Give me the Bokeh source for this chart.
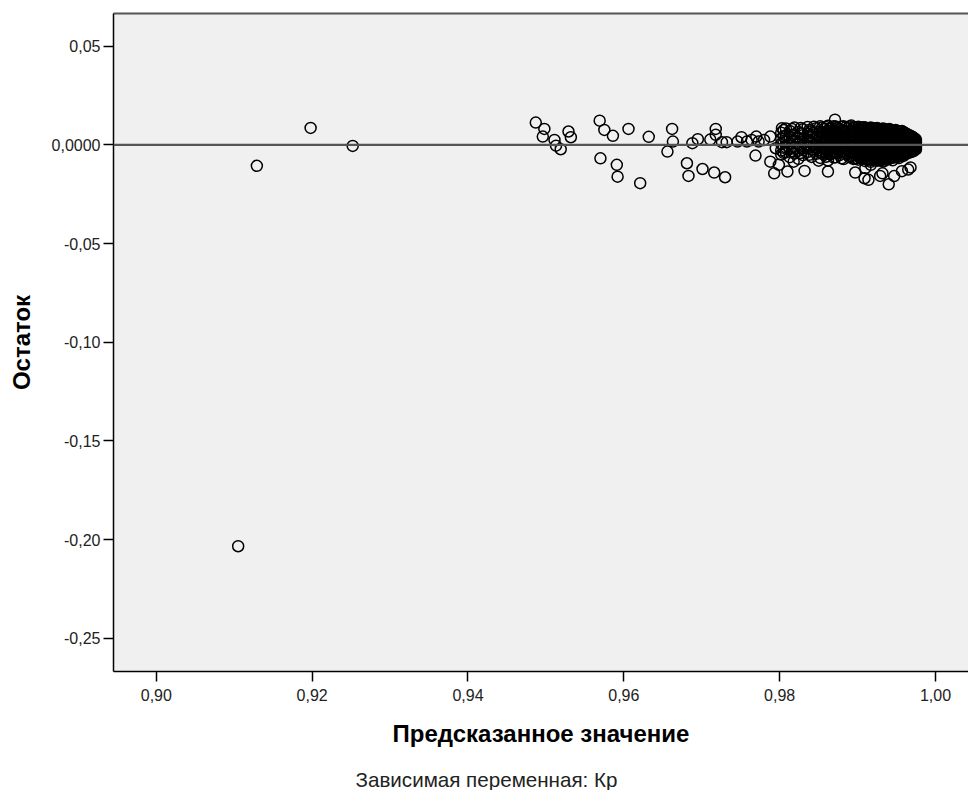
from bokeh.plotting import figure
from bokeh.models import Range1d, FixedTicker, Span, LinearAxis, Title
from bokeh.embed import file_html
from bokeh.resources import INLINE

# ---------------- data ----------------
x_ticks = [0.90, 0.92, 0.94, 0.96, 0.98, 1.00]
x_tick_labels = ["0,90", "0,92", "0,94", "0,96", "0,98", "1,00"]
y_ticks = [0.05, 0.0, -0.05, -0.10, -0.15, -0.20, -0.25]
y_tick_labels = ["0,05", "0,0000", "-0,05", "-0,10", "-0,15", "-0,20", "-0,25"]

# isolated points (predicted, residual)
sparse_pred = [0.9105, 0.9129, 0.9198, 0.9252,
               0.9487, 0.9498, 0.9496, 0.9511, 0.9513, 0.9519, 0.9529, 0.9532, 0.9569, 0.9575,
               0.9586, 0.9606, 0.9632, 0.9570, 0.9591, 0.9592, 0.9621,
               0.9656, 0.9662, 0.9663, 0.9681, 0.9683, 0.9701, 0.9716, 0.9730, 0.9688, 0.9695,
               0.9718, 0.9718, 0.9711, 0.9726, 0.9732, 0.9746, 0.9751, 0.9758, 0.9764, 0.9770,
               0.9773, 0.9769, 0.9780, 0.9788, 0.9795, 0.9788, 0.9799, 0.9793, 0.9803, 0.9810,
               0.9832, 0.9862, 0.9818, 0.9850, 0.9899, 0.9897, 0.9910, 0.9909, 0.9914, 0.9917,
               0.9923, 0.9929, 0.9932, 0.9940, 0.9947, 0.9957, 0.9965, 0.9968, 0.9871]
sparse_resid = [-0.2034, -0.0106, 0.0086, -0.0005,
                0.0113, 0.0081, 0.0042, 0.0025, -0.0004, -0.0022, 0.0068, 0.0039, 0.0123, 0.0076,
                0.0046, 0.0081, 0.0041, -0.0068, -0.0101, -0.0161, -0.0194,
                -0.0034, 0.0081, 0.0017, -0.0093, -0.0157, -0.0122, -0.0140, -0.0164, 0.0009, 0.0029,
                0.0081, 0.0051, 0.0027, 0.0014, 0.0014, 0.0017, 0.0039, 0.0017, 0.0025, 0.0042,
                0.0017, -0.0054, 0.0025, 0.0042, -0.0017, -0.0085, -0.0101, -0.0144, 0.0085, -0.0135,
                -0.0132, -0.0135, -0.0085, -0.0080, -0.0068, -0.0140, -0.0118, -0.0169, -0.0177, -0.0101,
                -0.0076, -0.0157, -0.0144, -0.0200, -0.0158, -0.0133, -0.0125, -0.0114, 0.0128]

# dense cluster: for each predicted value, the residuals seen there
cluster_a = [
    (0.9802, [0.0062, 0.0031, 0.0005, -0.0028, -0.0049]),
    (0.9805, [0.0075, 0.0044, 0.0019, -0.0015, -0.0040]),
    (0.9808, [0.0083, 0.0047, 0.0016, -0.0012, -0.0038]),
    (0.9813, [0.0071, 0.0039, 0.0008, -0.0021, -0.0062]),
    (0.9816, [0.0080, 0.0049, 0.0017, -0.0016, -0.0034]),
    (0.9819, [0.0088, 0.0054, 0.0022, -0.0009, -0.0044]),
    (0.9824, [0.0066, 0.0035, 0.0003, -0.0030, -0.0071]),
    (0.9827, [0.0086, 0.0058, 0.0024, -0.0008, -0.0041]),
    (0.9830, [0.0079, 0.0049, 0.0013, -0.0017, -0.0052]),
    (0.9836, [0.0091, 0.0058, 0.0027, -0.0004, -0.0036]),
    (0.9838, [0.0076, 0.0046, 0.0016, -0.0015, -0.0050]),
    (0.9841, [0.0069, 0.0040, 0.0010, -0.0024, -0.0061]),
    (0.9844, [0.0092, 0.0061, 0.0030, -0.0003, -0.0030]),
    (0.9847, [0.0085, 0.0052, 0.0019, -0.0013, -0.0045]),
]
cluster_b = [
    (0.9852, [0.0094, 0.0068, 0.0041, 0.0015, -0.0011, -0.0038, -0.0066]),
    (0.98545, [0.0088, 0.0062, 0.0036, 0.0010, -0.0017, -0.0044]),
    (0.9857, [0.0081, 0.0055, 0.0029, 0.0003, -0.0024, -0.0050]),
    (0.98595, [0.0091, 0.0066, 0.0040, 0.0014, -0.0013, -0.0039, -0.0060]),
    (0.9862, [0.0097, 0.0072, 0.0046, 0.0020, -0.0006, -0.0033, -0.0079]),
    (0.98645, [0.0083, 0.0057, 0.0031, 0.0005, -0.0022, -0.0048]),
    (0.9867, [0.0086, 0.0060, 0.0034, 0.0008, -0.0019, -0.0045]),
    (0.98695, [0.0095, 0.0069, 0.0043, 0.0017, -0.0009, -0.0035, -0.0064]),
    (0.9872, [0.0093, 0.0067, 0.0042, 0.0016, -0.0010, -0.0036, -0.0063]),
    (0.98745, [0.0087, 0.0061, 0.0036, 0.0010, -0.0016, -0.0042]),
    (0.9877, [0.0079, 0.0053, 0.0027, 0.0001, -0.0025, -0.0052]),
    (0.98795, [0.0092, 0.0066, 0.0040, 0.0014, -0.0012, -0.0038, -0.0068]),
    (0.9882, [0.0095, 0.0070, 0.0044, 0.0018, -0.0008, -0.0034, -0.0072]),
    (0.98845, [0.0089, 0.0063, 0.0037, 0.0011, -0.0015, -0.0041]),
    (0.9887, [0.0084, 0.0058, 0.0032, 0.0006, -0.0021, -0.0047]),
    (0.98895, [0.0093, 0.0067, 0.0041, 0.0015, -0.0011, -0.0037, -0.0062]),
    (0.9892, [0.0098, 0.0073, 0.0047, 0.0021, -0.0005, -0.0031, -0.0058]),
    (0.98945, [0.0090, 0.0064, 0.0038, 0.0012, -0.0014, -0.0040, -0.0071]),
    (0.9897, [0.0087, 0.0061, 0.0035, 0.0009, -0.0017, -0.0043, -0.0069]),
]
cluster_c = [
    (0.9901, [0.0092, 0.0078, 0.0064, 0.0051, 0.0037, 0.0024, 0.0010, -0.0003, -0.0017, -0.0030, -0.0044, -0.0058, -0.0075]),
    (0.9903, [0.0087, 0.0073, 0.0059, 0.0046, 0.0032, 0.0019, 0.0005, -0.0008, -0.0022, -0.0036, -0.0050, -0.0066]),
    (0.9905, [0.0085, 0.0071, 0.0057, 0.0044, 0.0030, 0.0017, 0.0003, -0.0010, -0.0024, -0.0037, -0.0051, -0.0066]),
    (0.9907, [0.0089, 0.0075, 0.0061, 0.0048, 0.0034, 0.0021, 0.0007, -0.0006, -0.0020, -0.0034, -0.0048, -0.0070]),
    (0.9909, [0.0090, 0.0076, 0.0062, 0.0049, 0.0035, 0.0022, 0.0008, -0.0005, -0.0019, -0.0032, -0.0046, -0.0060, -0.0081]),
    (0.9911, [0.0086, 0.0072, 0.0058, 0.0045, 0.0031, 0.0018, 0.0004, -0.0009, -0.0023, -0.0037, -0.0051, -0.0072]),
    (0.9913, [0.0083, 0.0069, 0.0055, 0.0042, 0.0028, 0.0015, 0.0001, -0.0012, -0.0026, -0.0039, -0.0053, -0.0068]),
    (0.9915, [0.0085, 0.0071, 0.0057, 0.0044, 0.0030, 0.0017, 0.0003, -0.0010, -0.0024, -0.0038, -0.0052, -0.0075]),
    (0.9917, [0.0088, 0.0074, 0.0060, 0.0047, 0.0033, 0.0020, 0.0006, -0.0007, -0.0021, -0.0034, -0.0048, -0.0062, -0.0086]),
    (0.9919, [0.0084, 0.0070, 0.0056, 0.0043, 0.0029, 0.0016, 0.0002, -0.0011, -0.0025, -0.0039, -0.0053, -0.0077]),
    (0.9921, [0.0081, 0.0067, 0.0053, 0.0040, 0.0026, 0.0013, -0.0001, -0.0014, -0.0028, -0.0041, -0.0055, -0.0070]),
    (0.9923, [0.0083, 0.0069, 0.0055, 0.0042, 0.0028, 0.0015, 0.0001, -0.0012, -0.0026, -0.0040, -0.0054, -0.0071]),
    (0.9925, [0.0086, 0.0072, 0.0058, 0.0045, 0.0031, 0.0018, 0.0004, -0.0009, -0.0023, -0.0036, -0.0050, -0.0064, -0.0079]),
    (0.9927, [0.0082, 0.0068, 0.0054, 0.0041, 0.0027, 0.0014, 0.0000, -0.0013, -0.0027, -0.0041, -0.0055, -0.0079]),
    (0.9929, [0.0079, 0.0065, 0.0051, 0.0038, 0.0024, 0.0011, -0.0003, -0.0016, -0.0030, -0.0043, -0.0057, -0.0072]),
    (0.9931, [0.0080, 0.0066, 0.0052, 0.0039, 0.0025, 0.0012, -0.0002, -0.0015, -0.0029, -0.0043, -0.0057, -0.0073]),
    (0.9933, [0.0083, 0.0069, 0.0056, 0.0042, 0.0029, 0.0015, 0.0002, -0.0011, -0.0025, -0.0038, -0.0052, -0.0066, -0.0084]),
    (0.9935, [0.0079, 0.0065, 0.0051, 0.0038, 0.0024, 0.0011, -0.0003, -0.0016, -0.0030, -0.0044, -0.0058, -0.0080]),
    (0.9937, [0.0076, 0.0062, 0.0049, 0.0035, 0.0022, 0.0008, -0.0005, -0.0019, -0.0032, -0.0046, -0.0060, -0.0075]),
    (0.9939, [0.0077, 0.0063, 0.0050, 0.0036, 0.0023, 0.0009, -0.0004, -0.0018, -0.0031, -0.0045, -0.0059, -0.0072]),
    (0.9941, [0.0080, 0.0066, 0.0053, 0.0039, 0.0026, 0.0012, -0.0001, -0.0015, -0.0028, -0.0042, -0.0056, -0.0070]),
    (0.9943, [0.0075, 0.0061, 0.0048, 0.0034, 0.0021, 0.0007, -0.0006, -0.0020, -0.0033, -0.0047, -0.0061]),
    (0.9945, [0.0073, 0.0059, 0.0046, 0.0032, 0.0019, 0.0005, -0.0008, -0.0022, -0.0035, -0.0049, -0.0063, -0.0078]),
    (0.9947, [0.0073, 0.0059, 0.0046, 0.0032, 0.0019, 0.0005, -0.0008, -0.0022, -0.0035, -0.0049, -0.0064]),
    (0.9949, [0.0076, 0.0062, 0.0049, 0.0035, 0.0022, 0.0008, -0.0005, -0.0019, -0.0032, -0.0046, -0.0061]),
    (0.9951, [0.0071, 0.0057, 0.0044, 0.0030, 0.0017, 0.0003, -0.0010, -0.0024, -0.0037, -0.0051, -0.0062]),
    (0.9953, [0.0069, 0.0055, 0.0042, 0.0028, 0.0015, 0.0001, -0.0012, -0.0026, -0.0039, -0.0053, -0.0067]),
    (0.9955, [0.0068, 0.0054, 0.0041, 0.0027, 0.0014, 0.0000, -0.0013, -0.0027, -0.0040, -0.0054]),
    (0.9957, [0.0071, 0.0057, 0.0044, 0.0030, 0.0017, 0.0003, -0.0010, -0.0024, -0.0037, -0.0051]),
    (0.9959, [0.0064, 0.0050, 0.0037, 0.0023, 0.0010, -0.0004, -0.0017, -0.0031, -0.0044, -0.0056]),
]
cluster_d = [
    (0.9961, [0.0060, 0.0047, 0.0033, 0.0020, 0.0006, -0.0007, -0.0021, -0.0035, -0.0048]),
    (0.9963, [0.0056, 0.0042, 0.0029, 0.0015, 0.0002, -0.0012, -0.0025, -0.0038]),
    (0.9965, [0.0052, 0.0039, 0.0025, 0.0012, -0.0002, -0.0015, -0.0029, -0.0042]),
    (0.9967, [0.0048, 0.0034, 0.0021, 0.0007, -0.0006, -0.0019, -0.0032]),
    (0.9969, [0.0044, 0.0031, 0.0017, 0.0004, -0.0010, -0.0023, -0.0036]),
    (0.99705, [0.0040, 0.0026, 0.0013, -0.0001, -0.0014, -0.0027]),
    (0.9972, [0.0036, 0.0023, 0.0009, -0.0004, -0.0018, -0.0031]),
    (0.99735, [0.0031, 0.0018, 0.0005, -0.0008, -0.0020]),
    (0.9975, [0.0027, 0.0014, 0.0001, -0.0012, -0.0022]),
]

# ---------------- assemble ----------------
pred = list(sparse_pred)
resid = list(sparse_resid)
for cluster in (cluster_a, cluster_b, cluster_c, cluster_d):
    for xv, ys in cluster:
        for yv in ys:
            pred.append(xv)
            resid.append(yv)

FONT = "Liberation Sans"

p = figure(width=968, height=790, output_backend="svg", toolbar_location=None,
           x_range=Range1d(0.8945, 1.00424), y_range=Range1d(-0.2669, 0.0666),
           min_border_left=113, min_border_right=0, min_border_top=13, min_border_bottom=0,
           background_fill_color="#f0f0f0", border_fill_color="white")
p.outline_line_color = None
p.grid.visible = False

p.add_layout(Span(location=0, dimension="width", line_color="#555555", line_width=2.2))

p.scatter(pred, resid, marker="circle", size=11, fill_color=None,
          line_color="black", line_width=1.5)

# axes
xa = p.xaxis[0]
xa.ticker = FixedTicker(ticks=x_ticks)
xa.major_label_overrides = {t: l for t, l in zip(x_ticks, x_tick_labels)}
xa.minor_tick_line_color = None
xa.major_tick_out = 10
xa.major_tick_in = 0
xa.major_tick_line_width = 1.5
xa.axis_line_width = 1.5
xa.axis_line_color = "black"
xa.major_label_text_font = FONT
xa.major_label_text_font_size = "16px"
xa.major_label_text_color = "#222222"
xa.major_label_standoff = 7
xa.axis_label = "Предсказанное значение"
xa.axis_label_text_font = FONT
xa.axis_label_text_font_size = "24px"
xa.axis_label_text_font_style = "bold"
xa.axis_label_text_color = "black"
xa.axis_label_standoff = 16

ya = p.yaxis[0]
ya.ticker = FixedTicker(ticks=y_ticks)
ya.major_label_overrides = {t: l for t, l in zip(y_ticks, y_tick_labels)}
ya.minor_tick_line_color = None
ya.major_tick_out = 10
ya.major_tick_in = 0
ya.major_tick_line_width = 1.5
ya.axis_line_width = 1.5
ya.axis_line_color = "black"
ya.major_label_text_font = FONT
ya.major_label_text_font_size = "16px"
ya.major_label_text_color = "#222222"
ya.major_label_standoff = 3
ya.axis_label = "Остаток"
ya.axis_label_text_font = FONT
ya.axis_label_text_font_size = "24px"
ya.axis_label_text_font_style = "bold"
ya.axis_label_text_color = "black"
ya.axis_label_standoff = 14

top = LinearAxis(ticker=FixedTicker(ticks=[]), axis_line_color="#555555", axis_line_width=2,
                 major_tick_line_color=None, minor_tick_line_color=None,
                 major_label_text_font_size="0px")
p.add_layout(top, "above")

spacer = Title(text=" ", text_font_size="1px", standoff=13)
p.add_layout(spacer, "below")

sub = Title(text="Зависимая переменная: Кр", align="left", offset=242,
            text_font=FONT, text_font_size="20.6px", text_font_style="normal",
            text_color="#222222", standoff=0)
p.add_layout(sub, "below")

open("out.html", "w").write(file_html(p, INLINE))
